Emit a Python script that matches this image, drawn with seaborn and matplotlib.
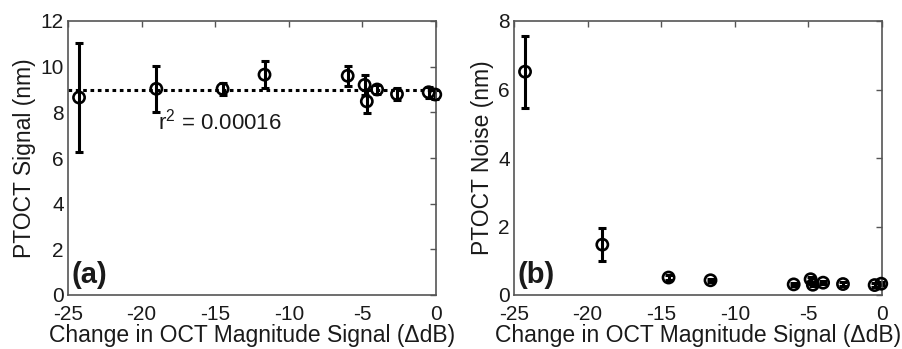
import matplotlib
matplotlib.use("Agg")
import matplotlib.pyplot as plt
import seaborn as sns
import pandas as pd

# ---- data ----
delta_db = [-24.25, -19.0, -14.5, -11.65, -6.0, -4.85, -4.7, -4.0, -2.65, -0.5, -0.05]
signal = [8.65, 9.03, 9.03, 9.65, 9.6, 9.2, 8.48, 9.0, 8.8, 8.88, 8.78]
signal_err = [2.4, 1.0, 0.25, 0.6, 0.45, 0.45, 0.5, 0.2, 0.25, 0.25, 0.2]
noise = [6.52, 1.47, 0.51, 0.43, 0.31, 0.46, 0.30, 0.36, 0.32, 0.29, 0.33]
noise_err = [1.05, 0.48, 0.06, 0.05, 0.05, 0.08, 0.05, 0.05, 0.05, 0.05, 0.05]
fit_level = 9.0
r2_text = "r$^2$ = 0.00016"
x_ticks = [-25, -20, -15, -10, -5, 0]
y_ticks_signal = [0, 2, 4, 6, 8, 10, 12]
y_ticks_noise = [0, 2, 4, 6, 8]
xlabel = "Change in OCT Magnitude Signal (\u0394dB)"

df = pd.DataFrame({"x": delta_db, "signal": signal, "signal_err": signal_err,
                   "noise": noise, "noise_err": noise_err})

sns.set_theme(style="white")
plt.rcParams["font.family"] = ["Liberation Sans", "DejaVu Sans"]
plt.rcParams["mathtext.fontset"] = "custom"
plt.rcParams["mathtext.rm"] = "Liberation Sans"

fig = plt.figure(figsize=(9.02, 3.49), dpi=100)
ax1 = fig.add_axes([68/902, 1-295/349, 368/902, 274/349])
ax2 = fig.add_axes([514/902, 1-295/349, 368/902, 274/349])

txt_color = "#1a1a1a"
fs_tick = 15
fs_label = 16.5

def style(ax, yticks, ylim, ylabel):
    ax.set_xlim(-25, 0)
    ax.set_ylim(*ylim)
    ax.set_xticks(x_ticks)
    ax.set_yticks(yticks)
    ax.set_xticklabels([str(t) for t in x_ticks])
    ax.set_yticklabels([str(t) for t in yticks])
    ax.tick_params(direction="in", length=4, width=1, top=True, right=True,
                   labelsize=fs_tick, colors="#555555", labelcolor=txt_color)
    ax.tick_params(axis="x", pad=7)
    ax.tick_params(axis="y", pad=3)
    for s in ax.spines.values():
        s.set_color("#555555")
        s.set_linewidth(1.2)
    ax.set_xlabel(xlabel, fontsize=fs_label, color=txt_color, labelpad=0)
    ax.set_ylabel(ylabel, fontsize=fs_label, color=txt_color, labelpad=3)

def draw_points(ax, ycol, ecol):
    ax.errorbar(df["x"], df[ycol], yerr=df[ecol], fmt="none",
                ecolor="black", elinewidth=2.2, capsize=3, capthick=2.2,
                zorder=2, clip_on=False)
    sns.scatterplot(data=df, x="x", y=ycol, ax=ax, marker="o", s=65,
                    facecolor="none", edgecolor="black", linewidth=1.9,
                    zorder=3, clip_on=False)

# panel (a)
ax1.axhline(fit_level, color="black", ls=(0, (1.2, 1.2)), lw=2.2, zorder=1)
draw_points(ax1, "signal", "signal_err")
style(ax1, y_ticks_signal, (0, 12), "PTOCT Signal (nm)")
ax1.text(-18.9, 7.27, r2_text, fontsize=16, color=txt_color, va="baseline", ha="left")
ax1.text(0.01, 0.045, "(a)", transform=ax1.transAxes, fontsize=21,
         fontweight="bold", color=txt_color, va="baseline", ha="left")

# panel (b)
draw_points(ax2, "noise", "noise_err")
style(ax2, y_ticks_noise, (0, 8), "PTOCT Noise (nm)")
ax2.text(0.01, 0.045, "(b)", transform=ax2.transAxes, fontsize=21,
         fontweight="bold", color=txt_color, va="baseline", ha="left")

fig.savefig("out.png", dpi=100)
